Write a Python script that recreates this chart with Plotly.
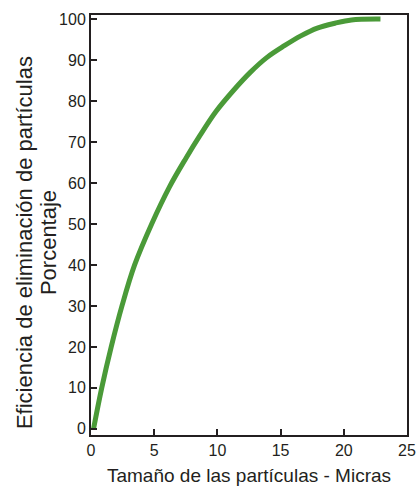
import plotly.graph_objects as go

size_um = [0.2, 0.85, 1.6, 2.45, 3.45, 4.8, 6.2, 7.5, 8.6, 9.9, 11.3, 12.6, 13.9,
           15.3, 16.6, 17.9, 19.3, 20.6, 22.9]
efficiency = [0, 10, 20, 30, 40, 50, 59, 66, 71.5, 77.5, 82.7, 87, 90.6,
              93.5, 95.9, 97.8, 99, 99.8, 100]

x_ticks = [0, 5, 10, 15, 20, 25]
y_ticks = [0, 10, 20, 30, 40, 50, 60, 70, 80, 90, 100]

x_title = "Tamaño de las partículas - Micras"
y_title_1 = "Eficiencia de eliminación de partículas"
y_title_2 = "Porcentaje"

FONT = "Liberation Sans, Arial, sans-serif"
INK = "#231f20"

fig = go.Figure()
fig.add_trace(go.Scatter(
    x=size_um, y=efficiency, mode="lines",
    line=dict(color="#4a9a38", width=5, shape="spline", smoothing=1.0),
    hoverinfo="skip", showlegend=False,
))

fig.update_xaxes(
    range=[0, 25], tickmode="array", tickvals=x_ticks, ticktext=[str(v) for v in x_ticks],
    showgrid=False, zeroline=False, showline=True, linecolor=INK, linewidth=2,
    mirror=True, ticks="inside", ticklen=6, tickwidth=2, tickcolor=INK,
    tickfont=dict(family=FONT, size=16, color=INK), automargin=False,
    title=dict(text=x_title, font=dict(family=FONT, size=19, color=INK), standoff=10),
)
fig.update_yaxes(
    range=[-1.5, 101], tickmode="array", tickvals=y_ticks, ticktext=[str(v) for v in y_ticks],
    showgrid=False, zeroline=False, showline=True, linecolor=INK, linewidth=2,
    mirror=True, ticks="inside", ticklen=6, tickwidth=2, tickcolor=INK,
    tickfont=dict(family=FONT, size=16, color=INK), automargin=False,
)

fig.update_layout(
    template="none",
    width=417, height=495,
    margin=dict(l=91, r=10, t=15, b=60),
    paper_bgcolor="white", plot_bgcolor="white",
    annotations=[
        dict(text=y_title_1, xref="paper", yref="paper", x=-0.212, y=0.457,
             textangle=-90, showarrow=False, xanchor="center", yanchor="middle",
             font=dict(family=FONT, size=22, color=INK)),
        dict(text=y_title_2, xref="paper", yref="paper", x=-0.136, y=0.457,
             textangle=-90, showarrow=False, xanchor="center", yanchor="middle",
             font=dict(family=FONT, size=22, color=INK)),
    ],
)

fig.write_html(
    "out.html",
    config={"displayModeBar": False, "staticPlot": True},
    post_script="document.body.style.margin='0';document.body.style.overflow='hidden';",
)
